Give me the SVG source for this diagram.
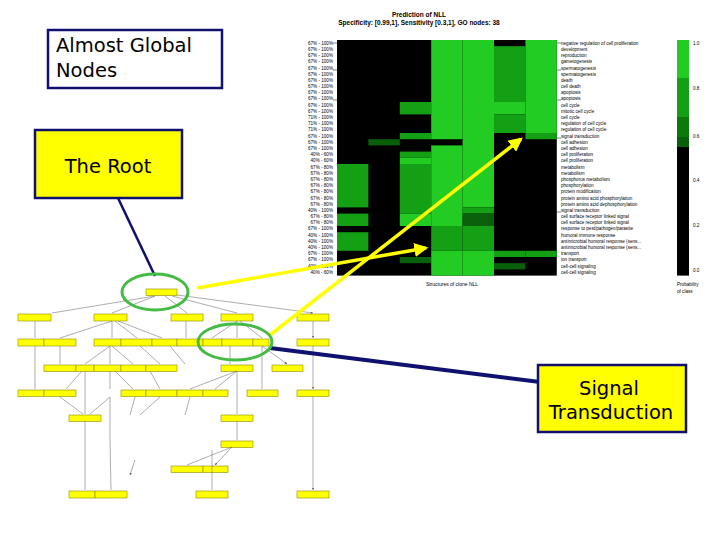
<svg xmlns="http://www.w3.org/2000/svg" width="720" height="540" viewBox="0 0 720 540">
<defs>
<style>
.t{font-family:"Liberation Sans",Arial,sans-serif}
.c{font-family:"DejaVu Sans","Liberation Sans",sans-serif;font-size:19.5px}
.sm{font-family:"Liberation Sans",Arial,sans-serif;font-size:4.6px;fill:#000}
.G{fill:#22cc22}.M{fill:#14a014}.D{fill:#0a600a}
.nd{fill:#ffff00;stroke:#8a8a00;stroke-width:0.6}
.ed{stroke:#777;stroke-width:0.6;fill:none;marker-end:url(#ah)}
.call{stroke:#101070;stroke-width:2.5}
</style>
<marker id="ah" viewBox="0 0 6 6" refX="6" refY="3" markerWidth="4" markerHeight="4" orient="auto"><path d="M0,0L6,3L0,6z" fill="#555"/></marker>
<marker id="ya" viewBox="0 0 6 6" refX="5" refY="3" markerWidth="4" markerHeight="4" orient="auto"><path d="M0,0L6,3L0,6z" fill="#ffff00"/></marker>
</defs>
<rect width="720" height="540" fill="#fff"/>
<g id="heatmap">
<text class="t" x="419" y="17" font-size="6.5" text-anchor="middle" font-weight="bold">Prediction of NLL</text>
<text class="t" x="419" y="25" font-size="6.5" text-anchor="middle" font-weight="bold">Specificity: [0.99,1], Sensitivity [0.3,1], GO nodes: 38</text>
<rect x="337" y="40" width="219.8" height="235.6" fill="#000"/>
<rect class="M" x="337" y="164" width="31.4" height="43.4"/>
<rect class="M" x="337" y="213.6" width="31.4" height="12.4"/>
<rect class="M" x="337" y="232.2" width="31.4" height="18.6"/>
<rect class="D" x="368.4" y="139.2" width="31.4" height="6.2"/>
<rect class="M" x="399.8" y="102" width="31.4" height="12.4"/>
<rect class="M" x="399.8" y="133" width="31.4" height="6.2"/>
<rect class="M" x="399.8" y="151.6" width="31.4" height="6.2"/>
<rect class="G" x="399.8" y="157.8" width="31.4" height="6.2"/>
<rect class="M" x="399.8" y="164" width="31.4" height="49.6"/>
<rect class="G" x="399.8" y="213.6" width="31.4" height="12.4"/>
<rect class="D" x="399.8" y="257" width="31.4" height="6.2"/>
<rect class="G" x="431.2" y="40" width="31.4" height="99.2"/>
<rect class="G" x="431.2" y="145.4" width="31.4" height="80.6"/>
<rect class="M" x="431.2" y="226" width="31.4" height="24.8"/>
<rect class="G" x="431.2" y="250.8" width="31.4" height="24.8"/>
<rect class="G" x="462.6" y="40" width="31.4" height="167.4"/>
<rect class="M" x="462.6" y="207.4" width="31.4" height="6.2"/>
<rect class="D" x="462.6" y="213.6" width="31.4" height="12.4"/>
<rect class="M" x="462.6" y="226" width="31.4" height="24.8"/>
<rect class="G" x="462.6" y="250.8" width="31.4" height="24.8"/>
<rect class="M" x="494" y="46.2" width="31.4" height="55.8"/>
<rect class="G" x="494" y="102" width="31.4" height="12.4"/>
<rect class="M" x="494" y="114.4" width="31.4" height="18.6"/>
<rect class="M" x="494" y="250.8" width="31.4" height="6.2"/>
<rect class="D" x="494" y="263.2" width="31.4" height="6.2"/>
<rect class="G" x="525.4" y="40" width="31.4" height="93"/>
<rect class="M" x="525.4" y="133" width="31.4" height="6.2"/>
<rect class="M" x="525.4" y="250.8" width="31.4" height="6.2"/>
<g class="sm" text-anchor="end">
<text x="333" y="45">67% - 100%</text><text x="333" y="51">67% - 100%</text><text x="333" y="57">67% - 100%</text><text x="333" y="63">67% - 100%</text><text x="333" y="70">67% - 100%</text><text x="333" y="76">67% - 100%</text><text x="333" y="82">67% - 100%</text><text x="333" y="88">67% - 100%</text><text x="333" y="94">67% - 100%</text><text x="333" y="100">67% - 100%</text><text x="333" y="107">67% - 100%</text><text x="333" y="113">67% - 100%</text><text x="333" y="119">71% - 100%</text><text x="333" y="125">71% - 100%</text><text x="333" y="131">71% - 100%</text><text x="333" y="138">67% - 100%</text><text x="333" y="144">67% - 100%</text><text x="333" y="150">67% - 100%</text><text x="333" y="156">40% - 60%</text><text x="333" y="162">40% - 60%</text><text x="333" y="169">67% - 80%</text><text x="333" y="175">67% - 80%</text><text x="333" y="181">67% - 80%</text><text x="333" y="187">67% - 80%</text><text x="333" y="193">67% - 80%</text><text x="333" y="200">67% - 80%</text><text x="333" y="206">67% - 80%</text><text x="333" y="212">40% - 100%</text><text x="333" y="218">67% - 80%</text><text x="333" y="224">67% - 80%</text><text x="333" y="230">67% - 100%</text><text x="333" y="237">40% - 100%</text><text x="333" y="243">40% - 100%</text><text x="333" y="249">40% - 100%</text><text x="333" y="255">67% - 100%</text><text x="333" y="261">67% - 100%</text><text x="333" y="268">40% - 100%</text><text x="333" y="274">40% - 60%</text>
</g>
<g class="sm">
<text x="561" y="45">negative regulation of cell proliferation</text><text x="561" y="51">development</text><text x="561" y="57">reproduction</text><text x="561" y="63">gametogenesis</text><text x="561" y="70">spermatogenesis</text><text x="561" y="76">spermatogenesis</text><text x="561" y="82">death</text><text x="561" y="88">cell death</text><text x="561" y="94">apoptosis</text><text x="561" y="100">apoptosis</text><text x="561" y="107">cell cycle</text><text x="561" y="113">mitotic cell cycle</text><text x="561" y="119">cell cycle</text><text x="561" y="125">regulation of cell cycle</text><text x="561" y="131">regulation of cell cycle</text><text x="561" y="138">signal transduction</text><text x="561" y="144">cell adhesion</text><text x="561" y="150">cell adhesion</text><text x="561" y="156">cell proliferation</text><text x="561" y="162">cell proliferation</text><text x="561" y="169">metabolism</text><text x="561" y="175">metabolism</text><text x="561" y="181">phosphorus metabolism</text><text x="561" y="187">phosphorylation</text><text x="561" y="193">protein modification</text><text x="561" y="200">protein amino acid phosphorylation</text><text x="561" y="206">protein amino acid dephosphorylation</text><text x="561" y="212">signal transduction</text><text x="561" y="218">cell surface receptor linked signal</text><text x="561" y="224">cell surface receptor linked signal</text><text x="561" y="230">response to pest/pathogen/parasite</text><text x="561" y="237">humoral immune response</text><text x="561" y="243">antimicrobial humoral response (sens...</text><text x="561" y="249">antimicrobial humoral response (sens...</text><text x="561" y="255">transport</text><text x="561" y="261">ion transport</text><text x="561" y="268">cell-cell signaling</text><text x="561" y="274">cell-cell signaling</text>
</g>
<path d="M333,43h4M333,70h4M333,100h4M557,43h4M557,70h4M557,100h4M557,138h4M557,212h4" stroke="#000" stroke-width="0.5"/>
<text class="t" x="452" y="286" font-size="5" text-anchor="middle">Structures of clone NLL</text>
<rect x="677" y="40" width="12" height="235.6" fill="#000"/>
<rect class="G" x="677" y="40" width="12" height="38"/>
<rect class="M" x="677" y="78" width="12" height="39"/>
<rect fill="#0a7a0a" x="677" y="117" width="12" height="20"/>
<rect class="D" x="677" y="137" width="12" height="10"/>
<g class="sm"><text x="693" y="45">1.0</text><text x="693" y="90">0.8</text><text x="693" y="138">0.6</text><text x="693" y="182">0.4</text><text x="693" y="227">0.2</text><text x="693" y="272">0.0</text>
<text x="677" y="286">Probability</text><text x="677" y="293">of class</text></g>
</g>
<g id="tree">
<g>
<rect class="nd" x="146" y="289" width="31" height="6.5"/>
<rect class="nd" x="18" y="314" width="33" height="7"/><rect class="nd" x="94" y="314" width="33" height="7"/><rect class="nd" x="171" y="314" width="32" height="7"/><rect class="nd" x="221" y="314" width="32" height="7"/><rect class="nd" x="297" y="314" width="32" height="7"/>
<rect class="nd" x="18" y="339" width="26" height="7"/><rect class="nd" x="44" y="339" width="32" height="7"/><rect class="nd" x="94" y="339" width="27" height="7"/><rect class="nd" x="121" y="339" width="31" height="7"/><rect class="nd" x="152" y="339" width="25" height="7"/><rect class="nd" x="177" y="339" width="26" height="7"/><rect class="nd" x="203" y="339" width="19" height="7"/><rect class="nd" x="222" y="339" width="31" height="7"/><rect class="nd" x="253" y="339" width="16" height="7"/><rect class="nd" x="297" y="339" width="32" height="7"/>
<rect class="nd" x="44" y="365" width="32" height="6.5"/><rect class="nd" x="76" y="365" width="18" height="6.5"/><rect class="nd" x="94" y="365" width="27" height="6.5"/><rect class="nd" x="121" y="365" width="25" height="6.5"/><rect class="nd" x="146" y="365" width="31" height="6.5"/><rect class="nd" x="221" y="365" width="32" height="6.5"/><rect class="nd" x="272" y="365" width="31" height="6.5"/>
<rect class="nd" x="18" y="390" width="26" height="6.5"/><rect class="nd" x="44" y="390" width="32" height="6.5"/><rect class="nd" x="121" y="390" width="25" height="6.5"/><rect class="nd" x="146" y="390" width="31" height="6.5"/><rect class="nd" x="177" y="390" width="26" height="6.5"/><rect class="nd" x="203" y="390" width="25" height="6.5"/><rect class="nd" x="247" y="390" width="31" height="6.5"/><rect class="nd" x="297" y="390" width="32" height="6.5"/>
<rect class="nd" x="69" y="415" width="32" height="6.5"/><rect class="nd" x="221" y="415" width="32" height="6.5"/>
<rect class="nd" x="221" y="441" width="32" height="6.5"/>
<rect class="nd" x="171" y="466" width="32" height="6.5"/><rect class="nd" x="203" y="466" width="25" height="6.5"/>
<rect class="nd" x="69" y="491" width="26" height="7"/><rect class="nd" x="95" y="491" width="32" height="7"/><rect class="nd" x="196" y="491" width="32" height="7"/><rect class="nd" x="297" y="491" width="32" height="7"/>
</g>
<g id="tree-edges">
<path class="ed" d="M155,296L52,313M155,296L112,313M165,296L187,313M172,296L237,313M177,295L313,313"/>
<path class="ed" d="M35,321V338M112,321L60,338M112,321V338M115,321L137,338M118,321L162,338M186,321V338M237,321L212,338M237,321V338M240,321L262,338M313,321V338"/>
<path class="ed" d="M60,346V364M110,346L85,364M110,346V364M112,346L133,364M140,346L160,364M170,346L185,364M230,346V364M262,346L287,364"/>
<path class="ed" d="M35,346V389M82,371L66,389M110,371V389M115,371L133,389M150,371L160,389M237,371L190,389M237,371L215,389M262,346L262,389M313,346V389"/>
<path class="ed" d="M60,397L83,414M85,371V414M110,397L90,414M237,371V414M237,421V440M232,447L187,465M232,447L215,465"/>
<path class="ed" d="M85,421V490M110,397V440L111,490M212,450V490M313,397V490"/>
<path class="ed" d="M135,397L130,415M160,397L140,415M190,397L185,415M135,460L130,475"/>
</g>
</g>
<g id="connectors">
<line class="call" x1="118" y1="198" x2="155" y2="276"/>
<line x1="270" y1="348" x2="540" y2="382" stroke="#101070" stroke-width="4"/>
<line x1="197" y1="288" x2="426" y2="248" stroke="#ffff00" stroke-width="3.5" marker-end="url(#ya)"/>
<line x1="270" y1="335" x2="521" y2="139" stroke="#ffff00" stroke-width="3.5" marker-end="url(#ya)"/>
<ellipse cx="155" cy="292" rx="33" ry="18" fill="none" stroke="#44bb44" stroke-width="3"/>
<ellipse cx="235" cy="342" rx="37" ry="18" fill="none" stroke="#44bb44" stroke-width="3"/>
</g>
<g id="almost-global">
<rect x="48" y="30" width="174" height="58" fill="#fff" stroke="#101070" stroke-width="2.5"/>
<text class="c" x="56" y="52">Almost Global</text>
<text class="c" x="56" y="77">Nodes</text>
</g>
<g id="root">
<rect x="35" y="130" width="147" height="68" fill="#ffff00" stroke="#101070" stroke-width="2.5"/>
<text class="c" x="108" y="173" text-anchor="middle">The Root</text>
</g>
<g id="signal">
<rect x="538" y="365" width="148" height="67" fill="#ffff00" stroke="#101070" stroke-width="2.5"/>
<text class="c" x="609" y="395" text-anchor="middle">Signal</text>
<text class="c" x="611" y="419" text-anchor="middle">Transduction</text>
</g>
</svg>
